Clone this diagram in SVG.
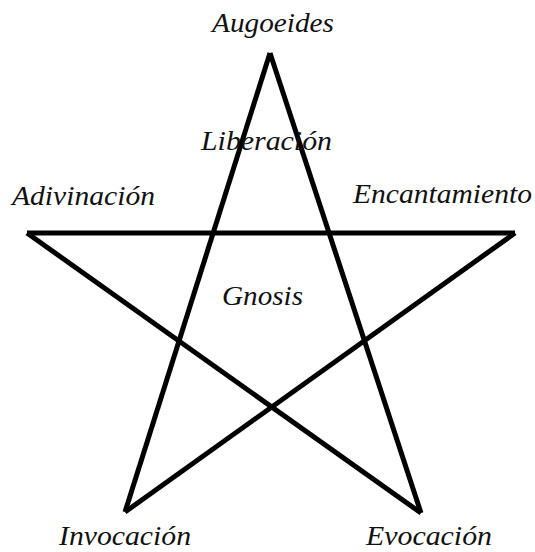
<svg xmlns="http://www.w3.org/2000/svg" width="535" height="552" viewBox="0 0 535 552">
<style>
.lbl{font-family:"Liberation Serif","Times New Roman",serif;font-style:italic;font-size:28px;fill:#111}
.edge{stroke:#000;stroke-width:5;fill:none;stroke-linecap:butt}
</style>
<rect width="535" height="552" fill="#fff"/>
<g id="connectors">
<path class="edge" d="M270,53 L125,512"/>
<path class="edge" d="M125,512 L515,233"/>
<path class="edge" d="M515,233 L27,233"/>
<path class="edge" d="M27,233 L421,513"/>
<path class="edge" d="M421,513 L270,53"/>
</g>
<g id="augoeides"><text class="lbl" x="212" y="32" textLength="122" lengthAdjust="spacingAndGlyphs">Augoeides</text></g>
<g id="liberacion"><text class="lbl" x="201" y="150" textLength="131" lengthAdjust="spacingAndGlyphs">Liberación</text></g>
<g id="adivinacion"><text class="lbl" x="12" y="205" textLength="143" lengthAdjust="spacingAndGlyphs">Adivinación</text></g>
<g id="encantamiento"><text class="lbl" x="353" y="203" textLength="179" lengthAdjust="spacingAndGlyphs">Encantamiento</text></g>
<g id="gnosis"><text class="lbl" x="222" y="305" textLength="81" lengthAdjust="spacingAndGlyphs">Gnosis</text></g>
<g id="invocacion"><text class="lbl" x="59" y="545" textLength="132" lengthAdjust="spacingAndGlyphs">Invocación</text></g>
<g id="evocacion"><text class="lbl" x="366" y="545" textLength="126" lengthAdjust="spacingAndGlyphs">Evocación</text></g>
</svg>
